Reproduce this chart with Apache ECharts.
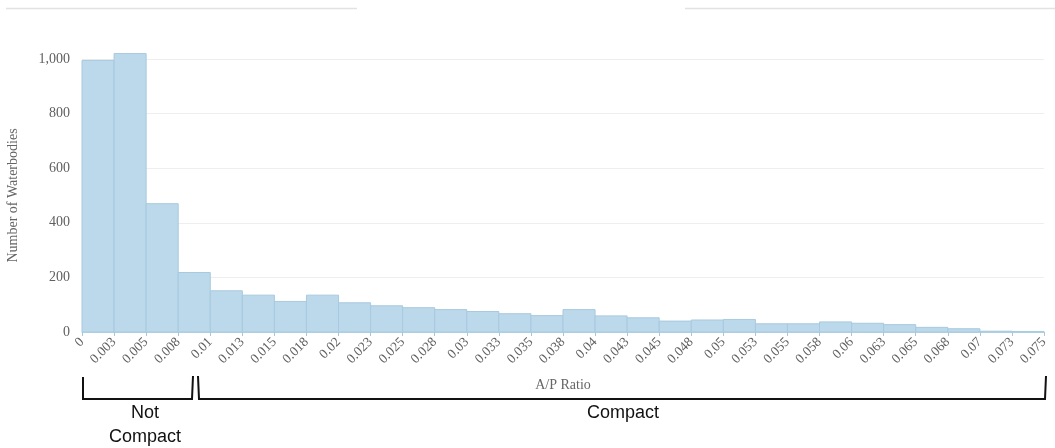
<!DOCTYPE html>
<html>
<head>
<meta charset="utf-8">
<script src="https://cdn.jsdelivr.net/npm/echarts@6/dist/echarts.min.js"></script>
<style>html,body{margin:0;padding:0;background:#fff}#c{width:1055px;height:448px}</style>
</head>
<body>
<div id="c"></div>
<script>
// Histogram bins: width 0.0025 from 0 to 0.075
var binWidth = 0.0025;
var binStarts = [0,0.0025,0.005,0.0075,0.01,0.0125,0.015,0.0175,0.02,0.0225,0.025,0.0275,0.03,0.0325,0.035,0.0375,0.04,0.0425,0.045,0.0475,0.05,0.0525,0.055,0.0575,0.06,0.0625,0.065,0.0675,0.07,0.0725];
var counts = [995,1020,470,218,151,135,112,135,107,96,89,82,75,67,60,82,59,52,40,44,46,30,30,37,32,27,17,12,3,2];
var xTickLabels = ['0','0.003','0.005','0.008','0.01','0.013','0.015','0.018','0.02','0.023','0.025','0.028','0.03','0.033','0.035','0.038','0.04','0.043','0.045','0.048','0.05','0.053','0.055','0.058','0.06','0.063','0.065','0.068','0.07','0.073','0.075'];
var yTicks = [0,200,400,600,800,1000];

var data = binStarts.map(function(s,i){return [s, s+binWidth, counts[i]];});
var serif = '"Liberation Serif","DejaVu Serif",serif';
var sans = '"Liberation Sans",Arial,sans-serif';

var chart = echarts.init(document.getElementById('c'));
chart.setOption({
  animation:false,
  backgroundColor:'#ffffff',
  grid:{left:82,right:11,top:59,bottom:116,containLabel:false,outerBoundsMode:'none'},
  xAxis:{
    type:'value',min:0,max:0.075,interval:binWidth,
    name:'A/P Ratio',nameLocation:'middle',nameGap:46,
    nameTextStyle:{fontFamily:serif,fontSize:14,color:'#666'},
    axisLine:{show:true,lineStyle:{color:'#b9d3e4'}},
    axisTick:{show:true,length:4,lineStyle:{color:'#a9c6da'}},
    splitLine:{show:false},
    axisLabel:{rotate:45,fontFamily:serif,fontSize:13.5,color:'#606060',margin:8,
      formatter:function(v){return xTickLabels[Math.round(v/binWidth)];}}
  },
  yAxis:{
    type:'value',min:0,max:1000,interval:200,
    name:'Number of Waterbodies',nameLocation:'middle',nameGap:62,
    nameTextStyle:{fontFamily:serif,fontSize:14,color:'#666'},
    axisLine:{show:false},axisTick:{show:false},
    splitLine:{lineStyle:{color:'#eeeeee'}},
    axisLabel:{fontFamily:serif,fontSize:14,color:'#606060',margin:12,
      formatter:function(v){return yTicks.indexOf(v)>=0 ? v.toLocaleString('en-US') : '';}}
  },
  series:[{
    type:'custom',
    clip:false,
    data:data,
    encode:{x:[0,1],y:2},
    renderItem:function(params,api){
      var p0 = api.coord([api.value(0), api.value(2)]);
      var p1 = api.coord([api.value(1), 0]);
      return {type:'rect',shape:{x:p0[0],y:p0[1],width:p1[0]-p0[0],height:p1[1]-p0[1]},
        style:{fill:'#bcd9eb',stroke:'#a8c9de',lineWidth:1}};
    }
  }],
  graphic:[
    {type:'line',shape:{x1:6,y1:8.5,x2:357,y2:8.5},style:{stroke:'#e2e2e2',lineWidth:1.5}},
    {type:'line',shape:{x1:685,y1:8.5,x2:1055,y2:8.5},style:{stroke:'#e2e2e2',lineWidth:1.5}},
    {type:'polyline',shape:{points:[[83,377],[83,399],[192,399],[193,376]]},style:{stroke:'#111',lineWidth:2,fill:null}},
    {type:'polyline',shape:{points:[[198,376],[199,399],[1045,399],[1046,376]]},style:{stroke:'#111',lineWidth:2,fill:null}},
    {type:'text',x:145,y:404,style:{text:'Not',font:'18px '+sans,fill:'#111',textAlign:'center'}},
    {type:'text',x:145,y:428,style:{text:'Compact',font:'18px '+sans,fill:'#111',textAlign:'center'}},
    {type:'text',x:623,y:404,style:{text:'Compact',font:'18px '+sans,fill:'#111',textAlign:'center'}}
  ]
});
</script>
</body>
</html>
